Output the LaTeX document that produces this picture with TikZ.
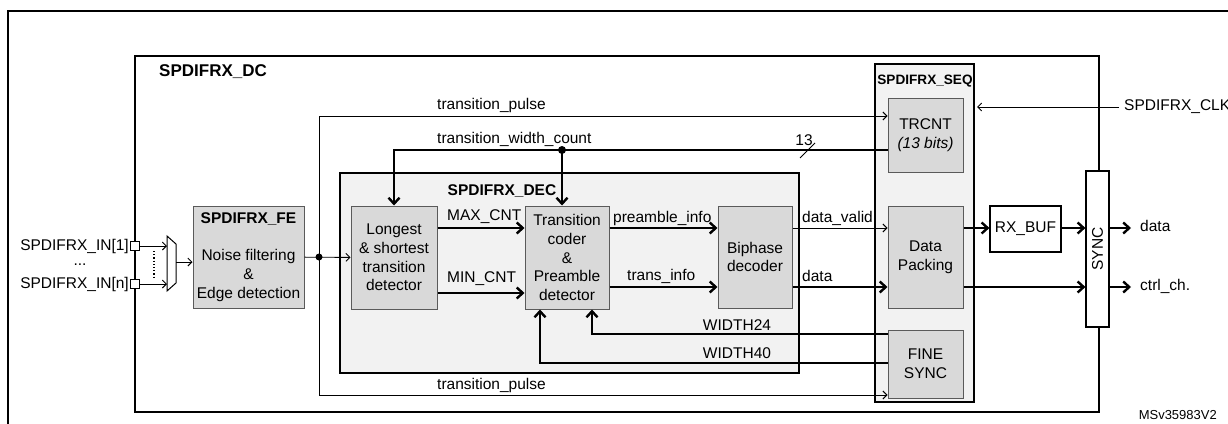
\documentclass[tikz,border=0pt]{standalone}
\usepackage{fontspec}
\setmainfont{Liberation Sans}
\usepackage{graphicx}
\usetikzlibrary{arrows.meta,calc}
\definecolor{cBlock}{RGB}{217,217,217}
\definecolor{cPane}{RGB}{242,242,242}
\definecolor{cEdge}{RGB}{90,90,90}
\tikzset{
	frm/.style={draw=black,line width=2.6pt,inner sep=0pt},
	pane/.style={draw=black,line width=2.6pt,fill=cPane,inner sep=0pt},
	blk/.style={draw=cEdge,line width=1pt,fill=cBlock,inner sep=2pt,align=center,
		font=\fontsize{15.5}{18.8}\selectfont},
	wbox/.style={draw=black,line width=1.2pt,fill=white,inner sep=2pt,align=center,
		font=\fontsize{15.5}{18.8}\selectfont},
	pinbox/.style={draw=black,line width=1pt,fill=white,inner sep=0pt,minimum size=9pt},
	lbl/.style={inner sep=0pt,font=\fontsize{15.5}{18.8}\selectfont},
	blbl/.style={inner sep=0pt,font=\fontsize{15.5}{18.8}\selectfont\bfseries},
	tharr/.style={-{Straight Barb[length=6pt,width=11pt]},line width=2.4pt},
	thline/.style={line width=2.4pt},
	tarr/.style={-{Straight Barb[length=4pt,width=8pt]},line width=0.9pt},
	tline/.style={line width=0.9pt},
}

\begin{document}
\begin{tikzpicture}[x=1pt,y=-1pt]
	\useasboundingbox (0,0) rectangle (1228,423);
	% outer frame
	\draw[line width=2.6pt] (8,425) -- (8,11) -- (1230,11);
	% rows
	\coordinate (yClk) at (0,107);
	\coordinate (yTP) at (0,116);
	\coordinate (yTW) at (0,150);
	\coordinate (yHi) at (0,228);
	\coordinate (yLo) at (0,287);
	\coordinate (yMin) at (0,293);
	\coordinate (yW24) at (0,334);
	\coordinate (yW40) at (0,363);
	\coordinate (yTPb) at (0,395);
	% containers
	\node[frm,fill=white,minimum width=964,minimum height=356] (dc) at (617,234) {};
	\node[blbl,font=\fontsize{17}{20}\selectfont\bfseries,anchor=west] (dcname) at (159,72) {SPDIFRX\_DC};
	\node[pane,minimum width=459,minimum height=200] (dec) at (569.5,273) {};
	\node[blbl] (decname) at (502,191) {SPDIFRX\_DEC};
	\node[pane,minimum width=99,minimum height=338] (seq) at (924.5,233) {};
	\node[blbl,font=\fontsize{13.6}{16}\selectfont\bfseries] (seqname) at (925,81) {SPDIFRX\_SEQ};
	% blocks
	\node[blk,minimum width=111,minimum height=102] (fe) at (248.5,257)
		{\textbf{SPDIFRX\_FE}\\[18.8pt]Noise filtering\\\&\\Edge detection};
	\node[blk,minimum width=86,minimum height=103] (lst) at (394,257.5)
		{Longest\\\& shortest\\transition\\detector};
	\node[blk,minimum width=84,minimum height=103] (coder) at (567,257.5)
		{Transition\\coder\\\&\\Preamble\\detector};
	\node[blk,minimum width=74,minimum height=102] (bip) at (755,257) {Biphase\\decoder};
	\node[blk,minimum width=75,minimum height=74] (trcnt) at (925.5,135) {TRCNT\\\textit{(13 bits)}};
	\node[blk,minimum width=75,minimum height=102] (pack) at (925.5,257) {Data\\Packing};
	\node[blk,minimum width=75,minimum height=68] (fine) at (925.5,364) {FINE\\SYNC};
	\node[wbox,minimum width=71,minimum height=46] (rxbuf) at (1025.5,229) {RX\_BUF};
	\node[wbox,minimum width=23,minimum height=156] (sync) at (1097.5,249) {\rotatebox{90}{SYNC}};
	% inputs and mux
	\node[pinbox] (in1) at (135,246) {};
	\node[pinbox] (inn) at (135,284) {};
	\node[lbl,anchor=east] (in1name) at (129,246) {SPDIFRX\_IN[1]};
	\node[lbl,anchor=base] (indots) at (80,265) {...};
	\node[lbl,anchor=east] (innname) at (129,284) {SPDIFRX\_IN[n]};
	\coordinate (muxA) at (167,236);
	\coordinate (muxB) at (176,244);
	\coordinate (muxC) at (176,283);
	\coordinate (muxD) at (167,291);
	\coordinate (muxO) at (176,262);
	\draw[line width=1pt,fill=white] (muxA) -- (muxB) -- (muxC) -- (muxD) -- cycle;
	\draw[tarr] (in1) -- (in1 -| muxA);
	\draw[tarr] (inn) -- (inn -| muxA);
	\draw[line width=1.2pt,dotted] (154,251) -- (154,277);
	\draw[tarr] (muxO) -- (muxO -| fe.west);
	% transition pulse
	\draw[tarr] (fe) -- (lst);
	\coordinate (jtp) at (319,257);
	\fill (jtp) circle (3.5pt);
	\draw[tarr] (jtp) |- (trcnt.west |- yTP);
	\draw[tarr] (jtp) |- (fine.west |- yTPb);
	\node[lbl,anchor=west] (tptop) at (437,105) {transition\_pulse};
	\node[lbl,anchor=west] (tpbot) at (437,385) {transition\_pulse};
	% transition width count
	\draw[tharr] (trcnt.west |- yTW) -| (lst.north);
	\coordinate (jtw) at (562,150);
	\fill (jtw) circle (4pt);
	\draw[tharr] (jtw) -- (jtw |- coder.north);
	\node[lbl,anchor=west] (twname) at (437,139) {transition\_width\_count};
	\draw[tline] (800,158) -- (815,143);
	\node[lbl] (bus13) at (804,140) {13};
	% decoder paths
	\draw[tharr] (lst.east |- yHi) -- (coder.west |- yHi);
	\draw[tharr] (lst.east |- yMin) -- (coder.west |- yMin);
	\node[lbl,anchor=west] (maxname) at (447,217) {MAX\_CNT};
	\node[lbl,anchor=west] (minname) at (447,279) {MIN\_CNT};
	\draw[tharr] (coder.east |- yHi) -- (bip.west |- yHi);
	\draw[tharr] (coder.east |- yLo) -- (bip.west |- yLo);
	\node[lbl,anchor=west] (prename) at (613,218) {preamble\_info};
	\node[lbl,anchor=west] (trname) at (627,276) {trans\_info};
	\draw[tarr] (bip.east |- yHi) -- (pack.west |- yHi);
	\draw[tharr] (bip.east |- yLo) -- (pack.west |- yLo);
	\node[lbl,anchor=west] (dvname) at (802,218) {data\_valid};
	\node[lbl,anchor=west] (dname) at (802,276) {data};
	% widths back to coder
	\draw[tharr] (fine.west |- yW24) -| ([xshift=25pt]coder.south);
	\draw[tharr] (fine.west |- yW40) -| ([xshift=-27pt]coder.south);
	\node[lbl] (w24) at (737,325) {WIDTH24};
	\node[lbl] (w40) at (737,353) {WIDTH40};
	% outputs
	\draw[tharr] (pack.east |- yHi) -- (rxbuf.west |- yHi);
	\draw[tharr] (rxbuf.east |- yHi) -- (sync.west |- yHi);
	\draw[tharr] (pack.east |- yLo) -- (sync.west |- yLo);
	\coordinate (odata) at (1131,228);
	\coordinate (octrl) at (1131,287);
	\draw[tharr] (sync.east |- odata) -- (odata);
	\draw[tharr] (sync.east |- octrl) -- (octrl);
	\node[lbl,anchor=west] (odataname) at (1140,226) {data};
	\node[lbl,anchor=west] (octrlname) at (1140,286) {ctrl\_ch.};
	% clock
	\node[lbl,anchor=west] (clkname) at (1124,107) {SPDIFRX\_CLK};
	\coordinate (clkend) at (977,107);
	\draw[tarr] ([xshift=-5pt]clkname.west) -- (clkend);
	\node[lbl,font=\fontsize{13}{15}\selectfont,anchor=east] (msv) at (1217,415) {MSv35983V2};
\end{tikzpicture}
\end{document}
